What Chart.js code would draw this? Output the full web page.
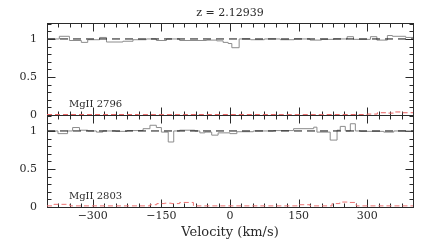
<!DOCTYPE html>
<html>
<head>
<meta charset="utf-8">
<script src="https://cdn.jsdelivr.net/npm/chart.js@4.4.1/dist/chart.umd.min.js"></script>
<style>
  html, body { margin: 0; padding: 0; background: #fff; }
  #wrap { width: 436px; height: 242px; }
</style>
</head>
<body>
<div id="wrap"><canvas id="velChart" width="436" height="242"></canvas></div>
<script>
const TITLE = "z = 2.12939";
const X_TITLE = "Velocity (km/s)";
const X_TICKS = [-300, -150, 0, 150, 300];
const Y_TICKS = [0, 0.5, 1];
const LINE_TOP = "MgII 2796";
const LINE_BOT = "MgII 2803";

// flujo normalizado, escalones: cada valor vale desde su velocidad hasta la siguiente
const topVel  = [-400, -373, -351, -325, -311, -285, -270, -234, -212, -183, -161, -139, -110, -51, -29, -15, -4, 4, 20, 45, 75, 110, 140, 175, 200, 227, 256, 270, 307, 321, 344, 355, 384, 400];
const topFlux = [1.0, 1.035, 0.98, 0.955, 0.99, 1.02, 0.96, 0.97, 0.99, 1.0, 0.98, 1.0, 0.98, 0.985, 0.975, 0.955, 0.94, 0.885, 1.0, 0.99, 1.0, 0.99, 1.0, 0.985, 0.995, 1.0, 1.03, 0.995, 1.03, 0.985, 1.045, 1.035, 1.02, 1.02];

const botVel  = [-400, -376, -355, -344, -329, -311, -292, -278, -250, -225, -190, -175, -161, -150, -135, -123, -110, -77, -66, -55, -40, -26, 0, 15, 51, 95, 139, 183, 190, 219, 234, 241, 252, 263, 274, 285, 336, 358, 400];
const botFlux = [1.0, 0.965, 1.0, 1.045, 1.01, 1.0, 0.985, 1.0, 0.995, 1.005, 1.03, 1.075, 1.045, 0.985, 0.855, 1.0, 1.01, 1.0, 0.975, 0.985, 0.945, 0.975, 0.965, 0.99, 1.0, 1.005, 1.03, 1.05, 0.985, 0.88, 1.01, 1.06, 1.0, 1.095, 1.0, 0.995, 0.985, 1.0, 1.0];

// error (rojo discontinuo)
const topErrVel = [-400, -300, -200, -100, 0, 100, 200, 300, 322, 345, 360, 375, 400];
const topErrVal = [0.006, 0.006, 0.005, 0.006, 0.006, 0.005, 0.006, 0.012, 0.03, 0.025, 0.04, 0.03, 0.03];
const botErrVel = [-400, -385, -350, -175, -160, -143, -128, -110, -80, 150, 175, 223, 240, 259, 276, 400];
const botErrVal = [0.015, 0.035, 0.015, 0.03, 0.045, 0.05, 0.045, 0.06, 0.015, 0.03, 0.015, 0.045, 0.065, 0.06, 0.015, 0.015];

// continuo
const contVel = [-400, 400];
const contLevel = [1, 1];

const FONT = "'DejaVu Serif', serif";
const INK = "#2a2a2a";

function pts(xs, ys) {
  return xs.map((x, i) => ({ x: x, y: ys[i] }));
}

const framePlugin = {
  id: "frame",
  beforeDatasetsDraw(chart) {
    const ctx = chart.ctx;
    const xs = chart.scales.x;
    const left = Math.round(chart.chartArea.left) + 0.5;
    const right = Math.round(chart.chartArea.right) + 0.5;
    ctx.save();
    ctx.strokeStyle = INK;
    ctx.lineWidth = 1;
    ["yTop", "yBot"].forEach(id => {
      const ys = chart.scales[id];
      const top = Math.round(ys.top) + 0.5;
      const bot = Math.round(ys.bottom) + 0.5;
      ctx.strokeRect(left, top, right - left, bot - top);
      ctx.beginPath();
      for (let v = -375; v < 400; v += 25) {
        const px = Math.round(xs.getPixelForValue(v)) + 0.5;
        const len = v % 150 === 0 ? 8 : 4;
        ctx.moveTo(px, top); ctx.lineTo(px, top + len);
        ctx.moveTo(px, bot); ctx.lineTo(px, bot - len);
      }
      for (let k = 1; k <= 12; k++) {
        const py = Math.round(ys.getPixelForValue(k / 10)) + 0.5;
        if (py <= top) continue;
        const len = k % 5 === 0 ? 8 : 4;
        ctx.moveTo(left, py); ctx.lineTo(left + len, py);
        ctx.moveTo(right, py); ctx.lineTo(right - len, py);
      }
      ctx.stroke();
    });
    ctx.restore();
  },
  afterDatasetsDraw(chart) {
    const ctx = chart.ctx;
    const xs = chart.scales.x;
    const area = chart.chartArea;
    ctx.save();
    ctx.fillStyle = INK;
    ctx.font = "10px " + FONT;
    ctx.textBaseline = "middle";
    ctx.textAlign = "left";
    ctx.fillText(LINE_TOP, xs.getPixelForValue(-352), chart.scales.yTop.getPixelForValue(0.14));
    ctx.fillText(LINE_BOT, xs.getPixelForValue(-352), chart.scales.yBot.getPixelForValue(0.14));
    ctx.font = "11px " + FONT;
    ctx.textAlign = "center";
    ctx.fillText(TITLE, (area.left + area.right) / 2, 13);
    ctx.restore();
  }
};

function yScale() {
  return {
    type: "linear",
    position: "left",
    stack: "panels",
    stackWeight: 1,
    min: 0,
    max: 1.21,
    afterBuildTicks: s => { s.ticks = Y_TICKS.map(v => ({ value: v })); },
    afterFit: s => { s.width = 47; },
    ticks: {
      padding: 10,
      color: INK,
      font: { family: FONT, size: 11 },
      callback: v => String(v)
    },
    grid: { display: false, drawTicks: false },
    border: { display: false }
  };
}

new Chart(document.getElementById("velChart"), {
  type: "line",
  data: {
    datasets: [
      { data: pts(contVel, contLevel), yAxisID: "yTop", borderColor: "#111", borderDash: [8, 5], order: 0 },
      { data: pts(contVel, contLevel), yAxisID: "yBot", borderColor: "#111", borderDash: [8, 5], order: 0 },
      { data: pts(topVel, topFlux), yAxisID: "yTop", borderColor: "#8c8c8c", stepped: "before", order: 1 },
      { data: pts(botVel, botFlux), yAxisID: "yBot", borderColor: "#8c8c8c", stepped: "before", order: 1 },
      { data: pts(topErrVel, topErrVal), yAxisID: "yTop", borderColor: "#e86060", borderDash: [5, 3], stepped: "before", order: 2 },
      { data: pts(botErrVel, botErrVal), yAxisID: "yBot", borderColor: "#ec7272", borderDash: [5, 3], stepped: "before", order: 2 }
    ]
  },
  options: {
    responsive: false,
    animation: false,
    devicePixelRatio: 1,
    layout: { padding: { top: 23, right: 23, left: 0, bottom: 0 } },
    elements: {
      point: { radius: 0 },
      line: { borderWidth: 1, tension: 0, fill: false }
    },
    plugins: {
      legend: { display: false },
      tooltip: { enabled: false },
      title: { display: false }
    },
    scales: {
      x: {
        type: "linear",
        min: -400,
        max: 400,
        afterBuildTicks: s => { s.ticks = X_TICKS.map(v => ({ value: v })); },
        afterFit: s => { s.height = 35; },
        ticks: {
          padding: 3,
          maxRotation: 0,
          color: INK,
          font: { family: FONT, size: 11 },
          callback: v => (v < 0 ? "\u2212" + Math.abs(v) : String(v))
        },
        title: {
          display: true,
          text: X_TITLE,
          color: INK,
          font: { family: FONT, size: 13 },
          padding: { top: 0, bottom: 2 }
        },
        grid: { display: false, drawTicks: false },
        border: { display: false }
      },
      // el primer eje del stack queda abajo
      yBot: yScale(),
      yTop: yScale()
    }
  },
  plugins: [framePlugin]
});
</script>
</body>
</html>
